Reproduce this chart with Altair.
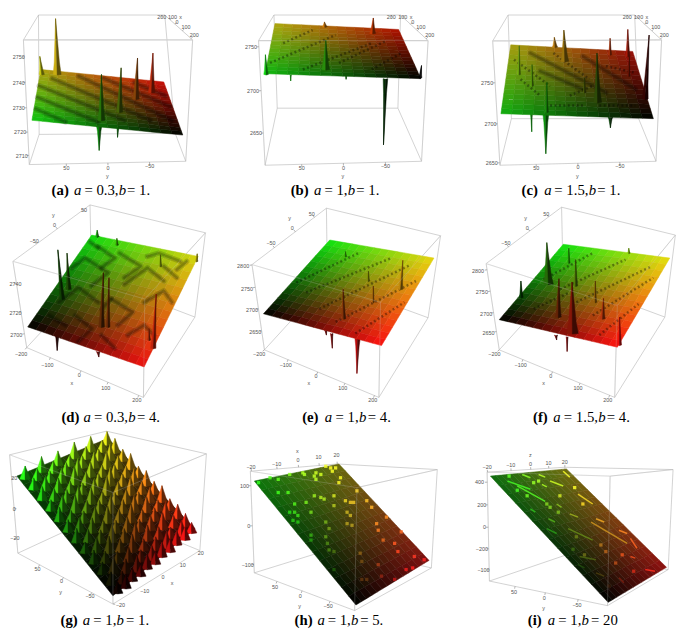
import altair as alt
import pandas as pd

alt.data_transformers.disable_max_rows()

# ---------- panel frames (in the 3x reading grid of each panel) ----------
COL_X = [(24, 684), (0, 684), (0, 663)]
COL_W = [220, 228, 221]
ROW_Y = [(24, 600), (0, 675), (0, 618)]
ROW_H = [192, 225, 206]

# box corners: four top, four bottom, order back-left, back-right, front-right, front-left
BOX_A = [(108,24),(493,24),(578,100),(62,100),(110,388),(525,385),(557,470),(80,480)]
BOX_B = [(142,24),(528,24),(612,102),(95,102),(152,308),(520,308),(592,470),(115,482)]
BOX_C = [(172,24),(558,24),(640,100),(125,103),(182,340),(570,340),(623,470),(147,482)]
BOX_D = [(265,3),(617,88),(432,290),(30,175),(270,225),(585,345),(428,590),(72,438)]
BOX_E = [(302,13),(650,97),(467,300),(75,185),(305,235),(612,347),(462,590),(113,445)]
BOX_F = [(335,10),(682,95),(505,310),(105,182),(340,230),(650,345),(497,590),(145,445)]
BOX_G = [(315,18),(620,87),(335,205),(20,90),(315,265),(600,382),(335,545),(45,390)]
BOX_H = [(335,118),(640,135),(395,190),(70,140),(340,370),(622,435),(388,565),(82,450)]
BOX_I = [(345,128),(675,135),(483,155),(108,143),(350,395),(660,440),(475,550),(115,475)]

# surface corners and their colours, order: P, Q, R, S going round the sheet
SURF_A = [(115,190),(490,228),(548,390),(88,345)]
SURF_B = [(145,50),(522,68),(590,218),(115,203)]
SURF_C = [(180,115),(552,135),(615,340),(150,325)]
SURF_D = [(270,95),(595,160),(430,497),(75,375)]
SURF_E = [(312,110),(630,165),(470,432),(110,335)]
SURF_F = [(340,123),(665,165),(505,437),(145,353)]
SURF_G = [(320,40),(585,315),(335,520),(42,155)]
SURF_H = [(340,118),(615,412),(392,548),(82,170)]
SURF_I = [(350,133),(655,433),(477,540),(118,155)]

TINT_A = ["#b0a410", "#c80c08", "#000000", "#10c810"]
TINT_B = ["#b0a810", "#b01000", "#000000", "#10b810"]
TINT_C = ["#a8a010", "#980c08", "#000000", "#10b010"]
TINT_D = ["#10e010", "#d8d810", "#f01010", "#000000"]
TINT_E = ["#10e810", "#e8d810", "#ff1010", "#000000"]
TINT_F = ["#10e810", "#e8e010", "#ff1010", "#000000"]
TINT_G = ["#a8a810", "#c01010", "#000000", "#10c010"]
TINT_H = ["#6c6c10", "#801010", "#000000", "#0c780c"]
TINT_I = ["#707010", "#901010", "#000000", "#107010"]

# spikes: base x, base y, tip x, tip y, half width
UP_A = [(118,205,112,150,8),(165,205,160,35,12),(453,260,457,140,10),(405,280,410,155,10),(355,320,360,185,10),(300,345,300,205,11)]
DOWN_A = [(293,362,293,437,8),(350,368,349,397,3)]
UP_B = [(297,60,296,45,8),(443,80,445,33,9),(300,190,300,100,12),(118,205,116,145,7),(588,215,592,178,5)]
DOWN_B = [(482,218,476,420,7),(193,206,193,225,2),(362,210,362,220,2)]
UP_C = [(315,122,313,92,8),(345,165,342,70,12),(483,145,483,95,5),(537,150,537,68,7),(205,205,206,118,5),(245,240,245,175,5),(405,260,405,215,5),(540,210,542,150,4),(445,290,443,140,12),(290,320,290,230,5),(590,280,602,85,9)]
DOWN_C = [(287,325,287,447,9),(243,325,244,380,3),(484,335,484,368,7)]
UP_D = [(287,100,287,80,6),(347,125,347,105,5),(480,190,480,155,4),(590,175,592,152,4),(200,260,195,150,8),(180,290,167,140,8),(320,375,323,225,6),(300,375,306,210,9),(445,415,445,380,5),(458,440,467,275,8)]
DOWN_D = [(165,400,165,447,6),(290,450,292,467,6)]
UP_E = [(360,160,360,145,4),(430,235,430,205,4),(528,260,535,172,7),(445,300,445,250,3),(355,350,353,260,6)]
DOWN_E = [(397,410,395,517,8),(318,395,320,440,4),(300,385,302,400,4)]
UP_F = [(357,180,357,135,4),(540,150,540,135,4),(378,250,378,170,6),(295,245,290,118,15),(438,300,438,235,4),(212,285,211,235,6),(325,345,327,228,9),(460,350,463,288,8),(368,395,367,238,18),(512,430,512,345,6)]
DOWN_F = [(352,405,352,450,3),(318,400,320,415,5)]

# ridge and trough traces on the sheets
BANDS_A = [[(100,310),(190,350)],[(105,275),(290,350)],[(110,240),(370,345)],[(150,218),(450,345)],[(230,210),(515,345)],[(305,216),(510,303)],[(400,230),(495,270)]]
BANDS_C = [[(240,140),(470,260)],[(270,195),(400,250)],[(400,150),(560,250)]]
BANDS_D = [[(210,195),(250,165),(320,210),(270,250)],[(355,150),(420,190),(370,225)],[(370,245),(440,195),(490,235)],[(290,130),(340,165),(300,195)],[(440,160),(475,150),(540,175)],[(170,300),(230,255),(290,300)],[(330,290),(395,330),(350,370)],[(430,300),(490,265),(515,300)],[(220,340),(270,380),(230,420)],[(380,400),(430,370),(460,400)],[(300,400),(340,440)],[(530,200),(560,175)],[(265,115),(290,135)],[(140,340),(190,370)],[(300,320),(330,290)],[(490,190),(530,225)]]
DOTS_B = [[(170,110),(260,70)],[(130,170),(330,85)],[(230,190),(440,110)],[(340,170),(480,105)],[(440,190),(530,140)]]
DOTS_C = [[(190,160),(300,240)],[(210,220),(270,270)],[(310,140),(420,220)],[(360,270),(430,240)],[(300,300),(400,300)],[(470,180),(560,200)],[(450,300),(560,300)]]
DOTS_E = [[(210,240),(400,150)],[(240,270),(500,165)],[(280,320),(560,185)],[(330,360),(575,235)],[(390,395),(540,300)]]
DOTS_F = [[(280,230),(430,150)],[(330,260),(530,170)],[(380,300),(610,190)],[(430,340),(615,225)],[(450,400),(570,305)],[(250,320),(360,270)]]

# bright spots and streaks
SPOTS_H = [(95,175),(130,160),(155,205),(155,165),(190,150),(230,145),(235,150),(185,205),(205,240),(190,265),(205,265),(215,275),(200,290),(215,295),(240,235),(255,265),(255,335),(255,350),(265,155),(270,145),(285,150),(300,125),(315,130),(320,140),(330,130),(270,165),(265,215),(285,220),(295,225),(325,215),(325,245),(345,160),(340,175),(360,230),(375,235),(385,235),(365,265),(375,275),(365,300),(380,305),(300,295),(310,315),(300,340),(305,360),(310,380),(325,385),(325,440),(425,230),(440,250),(485,280),(455,300),(460,320),(475,350),(510,360),(530,325),(520,385),(405,390),(410,415),(460,425),(410,470),(425,470),(470,460),(510,470),(545,440),(565,435),(600,410),(570,400),(395,200)]
SPOTS_I = [(175,155),(200,198),(230,215),(290,240),(300,250),(325,265),(370,378),(405,395),(380,340),(455,365),(470,385),(400,240),(375,190),(330,215),(265,170),(250,175),(520,395),(555,445),(480,490),(500,420)]
STREAK_I = [[(170,170),(240,195)],[(200,185),(285,232)],[(240,255),(255,265)],[(295,285),(315,295)],[(290,315),(320,330)],[(355,315),(430,350)],[(425,295),(535,360)],[(300,170),(340,185)],[(385,210),(430,240)],[(440,285),(465,295)],[(510,320),(535,330)],[(390,400),(440,410)],[(215,150),(240,160)],[(265,150),(285,158)],[(340,140),(360,158)],[(275,180),(290,188)],[(320,240),(335,250)],[(360,270),(385,280)],[(545,345),(565,375)],[(385,425),(405,435)],[(440,450),(465,460)],[(545,400),(560,405)],[(590,440),(620,445)],[(510,465),(525,480)]]

# lattice of peaks of panel g, heights read per row
G_S = [0.02, 0.11, 0.20, 0.29, 0.38, 0.47, 0.56, 0.65, 0.74, 0.83, 0.92, 0.99]
G_T = [0.03, 0.12, 0.21, 0.30, 0.39, 0.48, 0.57, 0.66, 0.75, 0.84, 0.93]
G_SHIFT = [0.0, 0.04, 0.0, 0.04, 0.0, 0.04, 0.0, 0.04, 0.0, 0.04, 0.0]
G_H = [
 [30,34,26,38,24,36,28,40,25,33,30,22],
 [26,40,30,24,42,28,36,24,44,28,38,30],
 [36,24,44,30,28,46,26,38,30,42,24,34],
 [28,38,26,46,30,34,44,26,36,28,42,30],
 [40,26,36,28,48,26,32,46,28,38,30,36],
 [24,42,30,38,26,44,30,36,48,26,34,28],
 [34,28,46,24,40,30,42,28,32,44,26,36],
 [28,36,26,42,28,38,26,44,30,36,40,24],
 [38,24,34,30,44,26,36,30,42,26,34,30],
 [26,34,28,40,24,36,30,38,26,40,28,32],
 [30,26,32,24,34,28,34,24,32,28,30,24],
]

# tick labels: text, x, y
TICKS_A = [("2750",48,152),("2740",48,230),("2730",48,308),("2720",52,382),("2710",57,453),("50",193,492),("0",320,490),("−50",447,485),("y",318,515),("200",484,30),("100",517,30),("x",541,30),("0",530,45),("100",558,60),("200",583,85)]
TICKS_B = [("2750",72,122),("2700",78,256),("2650",87,385),("50",227,492),("0",354,490),("−50",482,485),("y",352,515),("200",500,30),("100",535,30),("x",560,30),("0",565,45),("100",590,60),("200",617,85)]
TICKS_C = [("2750",108,232),("2700",118,357),("2650",122,476),("50",258,492),("0",385,488),("−50",513,485),("y",383,515),("200",535,30),("100",570,30),("x",595,30),("0",595,45),("100",622,60),("200",648,85)]
TICKS_D = [("2740",38,243),("2720",38,332),("2700",40,400),("−200",55,458),("−100",135,490),("0",232,522),("100",313,560),("200",408,597),("x",210,545),("50",247,20),("0",157,65),("−50",95,113),("y",153,35)]
TICKS_E = [("2800",48,190),("2750",60,258),("2700",75,323),("2650",85,390),("−200",97,457),("−100",178,492),("0",270,525),("100",352,562),("200",443,597),("x",248,545),("50",257,30),("0",198,73),("−50",133,120),("y",190,43)]
TICKS_F = [("2800",80,205),("2750",92,270),("2700",105,335),("2650",112,393),("−200",130,458),("−100",210,492),("0",302,525),("100",385,562),("200",476,597),("x",280,545),("50",288,30),("0",230,72),("−50",165,120),("y",225,42)]
TICKS_G = [("20",34,160),("0",34,255),("−20",36,345),("50",105,437),("0",178,475),("y",175,508),("−50",265,520),("−20",358,548),("−10",432,505),("0",488,462),("x",515,480),("10",548,425),("20",603,390)]
TICKS_H = [("−20",72,127),("−10",150,117),("0",215,105),("x",213,80),("10",278,98),("20",333,90),("100",52,185),("0",65,307),("−100",62,425),("50",145,492),("0",222,520),("y",220,550),("−50",307,552)]
TICKS_I = [("−20",108,127),("−10",180,122),("0",240,117),("z",240,92),("10",295,115),("20",345,112),("400",85,174),("200",92,243),("0",100,311),("−200",92,377),("−100",97,441),("50",190,507),("0",282,527),("y",280,557),("−50",382,548)]

# captions: text piece, x, style; baseline per panel
CAP_A = [("(a)",148,"b"),("a",216,"i"),("= 0.3,",248,"r"),("b",353,"i"),("= 1.",378,"r")]
CAP_B = [("(b)",193,"b"),("a",264,"i"),("= 1,",296,"r"),("b",367,"i"),("= 1.",393,"r")]
CAP_C = [("(c)",213,"b"),("a",282,"i"),("= 1.5,",313,"r"),("b",418,"i"),("= 1.",444,"r")]
CAP_D = [("(d)",178,"b"),("a",245,"i"),("= 0.3,",277,"r"),("b",382,"i"),("= 4.",408,"r")]
CAP_E = [("(e)",228,"b"),("a",297,"i"),("= 1,",330,"r"),("b",401,"i"),("= 4.",428,"r")]
CAP_F = [("(f)",248,"b"),("a",310,"i"),("= 1.5,",342,"r"),("b",447,"i"),("= 4.",473,"r")]
CAP_G = [("(g)",175,"b"),("a",243,"i"),("= 1,",275,"r"),("b",346,"i"),("= 1.",375,"r")]
CAP_H = [("(h)",205,"b"),("a",275,"i"),("= 1,",306,"r"),("b",377,"i"),("= 5.",405,"r")]
CAP_I = [("(i)",232,"b"),("a",293,"i"),("= 1,",325,"r"),("b",396,"i"),("= 20",425,"r")]

PANELS = [
 dict(box=BOX_A, surf=SURF_A, tint=TINT_A, up=UP_A, down=DOWN_A, bands=BANDS_A, dots=[], spots=[], streaks=[], ticks=TICKS_A, cap=CAP_A, base=572, shade=1.0),
 dict(box=BOX_B, surf=SURF_B, tint=TINT_B, up=UP_B, down=DOWN_B, bands=[], dots=DOTS_B, spots=[], streaks=[], ticks=TICKS_B, cap=CAP_B, base=572, shade=1.0),
 dict(box=BOX_C, surf=SURF_C, tint=TINT_C, up=UP_C, down=DOWN_C, bands=BANDS_C, dots=DOTS_C, spots=[], streaks=[], ticks=TICKS_C, cap=CAP_C, base=572, shade=1.0),
 dict(box=BOX_D, surf=SURF_D, tint=TINT_D, up=UP_D, down=DOWN_D, bands=BANDS_D, dots=[], spots=[], streaks=[], ticks=TICKS_D, cap=CAP_D, base=665, shade=0.65),
 dict(box=BOX_E, surf=SURF_E, tint=TINT_E, up=UP_E, down=DOWN_E, bands=[], dots=DOTS_E, spots=[], streaks=[], ticks=TICKS_E, cap=CAP_E, base=665, shade=0.75),
 dict(box=BOX_F, surf=SURF_F, tint=TINT_F, up=UP_F, down=DOWN_F, bands=[], dots=DOTS_F, spots=[], streaks=[], ticks=TICKS_F, cap=CAP_F, base=665, shade=0.75),
 dict(box=BOX_G, surf=SURF_G, tint=TINT_G, up=[], down=[], bands=[], dots=[], spots=[], streaks=[], ticks=TICKS_G, cap=CAP_G, base=610, shade=1.0, dim=0.38),
 dict(box=BOX_H, surf=SURF_H, tint=TINT_H, up=[], down=[], bands=[], dots=[], spots=SPOTS_H, streaks=[], ticks=TICKS_H, cap=CAP_H, base=610, shade=1.0),
 dict(box=BOX_I, surf=SURF_I, tint=TINT_I, up=[], down=[], bands=[], dots=[], spots=SPOTS_I, streaks=STREAK_I, ticks=TICKS_I, cap=CAP_I, base=610, shade=1.0),
]

MESH = 14


def rgb(h):
    return tuple(int(h[i:i + 2], 16) for i in (1, 3, 5))


def hexc(c, f=1.0):
    return "#%02x%02x%02x" % tuple(min(255, int(v * f)) for v in c)


def blend4(q, s, t):
    return tuple(
        (1 - s) * (1 - t) * q[0][k] + s * (1 - t) * q[1][k] + s * t * q[2][k] + (1 - s) * t * q[3][k]
        for k in range(len(q[0]))
    )


def nearest_tint(p, x, y):
    best, bc = 1e18, None
    cols = [rgb(c) for c in p["tint"]]
    for i in range(MESH + 1):
        for j in range(MESH + 1):
            s, t = i / MESH, j / MESH
            px, py = blend4(p["surf"], s, t)
            d = (px - x) ** 2 + (py - y) ** 2
            if d < best:
                best, bc = d, blend4(cols, s, t)
    return bc


def polygon(rows, pts, colour, counter):
    pid = counter[0]
    counter[0] += 1
    for k, (x, y) in enumerate(list(pts) + [pts[0]]):
        rows.append(dict(id=pid, o=k, x=round(x, 1), y=round(y, 1), c=colour))


def spike(rows, counter, c, bx, by, tx, ty, w, shade, lit=1.1, waist=0.65):
    mx, my = bx + (tx - bx) * 0.22, by + (ty - by) * 0.22
    left = hexc(c, lit * shade + 0.1)
    right = hexc(c, 0.55 * shade)
    polygon(rows, [(bx - w, by), (mx - w * waist, my), (tx, ty), (bx, by + 2)], left, counter)
    polygon(rows, [(bx + w, by), (mx + w * waist, my), (tx, ty), (bx, by + 2)], right, counter)


def line_rows(rows, paths, colour, width, opacity, counter):
    for path in paths:
        pid = counter[0]
        counter[0] += 1
        for k, (x, y) in enumerate(path):
            rows.append(dict(id=pid, o=k, x=x, y=y, c=colour, w=width, a=opacity))


def nearest_on(seg, x, y):
    (ax, ay), (bx, by) = seg
    dx, dy = bx - ax, by - ay
    u = max(0.0, min(1.0, ((x - ax) * dx + (y - ay) * dy) / (dx * dx + dy * dy)))
    return ax + u * dx, ay + u * dy


def tick_paths(p):
    b = p["box"]
    edges = [(b[3], b[7]), (b[6], b[7]), (b[2], b[6]), (b[1], b[2]), (b[0], b[3]), (b[0], b[1])]
    out = []
    for t, x, y in p["ticks"]:
        if t in ("x", "y", "z"):
            continue
        cand = [nearest_on(e, x, y) for e in edges]
        nx, ny = min(cand, key=lambda q: (q[0] - x) ** 2 + (q[1] - y) ** 2)
        d = ((nx - x) ** 2 + (ny - y) ** 2) ** 0.5
        if 0 < d < 45:
            out.append([(nx, ny), (nx + (x - nx) / d * 7, ny + (y - ny) / d * 7)])
    return out


def build(p, ci, ri):
    dom_x = list(COL_X[ci])
    dom_y = [ROW_Y[ri][1], ROW_Y[ri][0]]
    X = alt.X("x:Q", axis=None, scale=alt.Scale(domain=dom_x, nice=False, zero=False))
    Y = alt.Y("y:Q", axis=None, scale=alt.Scale(domain=dom_y, nice=False, zero=False))
    cnt = [0]
    dim = p.get("dim", 1.0)
    b = p["box"]
    cols = [rgb(c) for c in p["tint"]]

    def polys(rows):
        return alt.Chart(pd.DataFrame(rows)).mark_line(strokeWidth=0.5, interpolate="linear").encode(
            x=X, y=Y, order="o:Q", detail="id:N",
            stroke=alt.Stroke("c:N", scale=None), fill=alt.Fill("c:N", scale=None))

    def lines(rows, **kw):
        return alt.Chart(pd.DataFrame(rows)).mark_line(**kw).encode(
            x=X, y=Y, order="o:Q", detail="id:N",
            stroke=alt.Stroke("c:N", scale=None),
            strokeWidth=alt.StrokeWidth("w:Q", scale=None),
            opacity=alt.Opacity("a:Q", scale=None))

    layers = []
    back = []
    line_rows(back, [[b[0], b[1]], [b[0], b[3]], [b[1], b[2]], [b[0], b[4]], [b[4], b[5]], [b[4], b[7]], [b[5], b[6]], [b[1], b[5]],
                     [b[3], b[7]], [b[2], b[6]], [b[6], b[7]]], "#b4b4b4", 0.6, 1, cnt)
    line_rows(back, [[b[3], b[2]]], "#d4d4d4", 1.3 if ri == 0 else 0.7, 1, cnt)
    line_rows(back, tick_paths(p), "#808080", 0.6, 1, cnt)
    layers.append(lines(back))

    if p["down"]:
        r = []
        for bx, by, tx, ty, w in p["down"]:
            spike(r, cnt, nearest_tint(p, bx, by), bx, by, tx, ty, w, p["shade"])
        layers.append(polys(r))

    sheet = []
    for i in range(MESH):
        for j in range(MESH):
            s0, s1, t0, t1 = i / MESH, (i + 1) / MESH, j / MESH, (j + 1) / MESH
            pts = [blend4(p["surf"], a, c) for a, c in ((s0, t0), (s1, t0), (s1, t1), (s0, t1))]
            col = blend4(cols, (s0 + s1) / 2, (t0 + t1) / 2)
            polygon(sheet, pts, hexc(col, dim), cnt)
    layers.append(polys(sheet))

    if p["bands"]:
        r = []
        line_rows(r, p["bands"], "#000000", 5.5, 0.16, cnt)
        line_rows(r, p["bands"], "#000000", 2.6, 0.2, cnt)
        layers.append(lines(r, strokeCap="round", strokeJoin="round"))
    if p["dots"]:
        r = []
        line_rows(r, p["dots"], "#000000", 2.6, 0.36, cnt)
        layers.append(lines(r, strokeDash=[2, 2.5]))
    if p["streaks"]:
        r = []
        for path in p["streaks"]:
            pid = cnt[0]
            cnt[0] += 1
            c = nearest_tint(p, *path[0])
            for k, (x, y) in enumerate(path):
                r.append(dict(id=pid, o=k, x=x, y=y, c=hexc(c, 2.4), w=1.5, a=0.85))
        layers.append(lines(r))
    if p["spots"]:
        r = [dict(x=x, y=y, c=hexc(nearest_tint(p, x, y), 2.6)) for x, y in p["spots"]]
        layers.append(alt.Chart(pd.DataFrame(r)).mark_point(shape="square", filled=True, size=11, opacity=0.85).encode(
            x=X, y=Y, color=alt.Color("c:N", scale=None)))

    if p["up"]:
        r = []
        for bx, by, tx, ty, w in p["up"]:
            spike(r, cnt, nearest_tint(p, bx, by), bx, by, tx, ty, w, p["shade"])
        layers.append(polys(r))
    if ci == 0 and ri == 2:
        r = []
        for j, t in enumerate(G_T):
            for i, s in enumerate(G_S):
                ss = min(1.0, s + G_SHIFT[j])
                bx, by = blend4(SURF_G, ss, t)
                c = blend4(cols, ss, t)
                spike(r, cnt, c, bx, by + 10, bx, by - G_H[j][i], 16, 1.0, lit=1.35, waist=0.8)
        layers.append(polys(r))

    over = []
    line_rows(over, [[b[3], b[7]], [b[2], b[6]], [b[3], b[2]], [b[2], b[1]]], "#c8c8c8", 0.7, 0.35, cnt)
    layers.append(lines(over))

    tk = pd.DataFrame([dict(t=t, x=x, y=y) for t, x, y in p["ticks"]])
    layers.append(alt.Chart(tk).mark_text(font="Liberation Sans", fontSize=5.5, color="#555555").encode(x=X, y=Y, text="t:N"))

    for style, kw in (("b", dict(fontWeight="bold")), ("i", dict(fontStyle="italic")), ("r", dict())):
        seg = pd.DataFrame([dict(t=t, x=x, y=p["base"]) for t, x, s in p["cap"] if s == style])
        layers.append(alt.Chart(seg).mark_text(font="Liberation Serif", fontSize=15, color="#000000",
                                               align="left", baseline="alphabetic", **kw).encode(x=X, y=Y, text="t:N"))
    return alt.layer(*layers).properties(width=COL_W[ci], height=ROW_H[ri])


cells = [build(PANELS[ri * 3 + ci], ci, ri) for ri in range(3) for ci in range(3)]
chart = alt.concat(*cells, columns=3, spacing=0, bounds="flush", align="each").properties(padding=0).configure_view(stroke=None)
chart.save("out.html", embed_options={"renderer": "svg", "actions": False})
